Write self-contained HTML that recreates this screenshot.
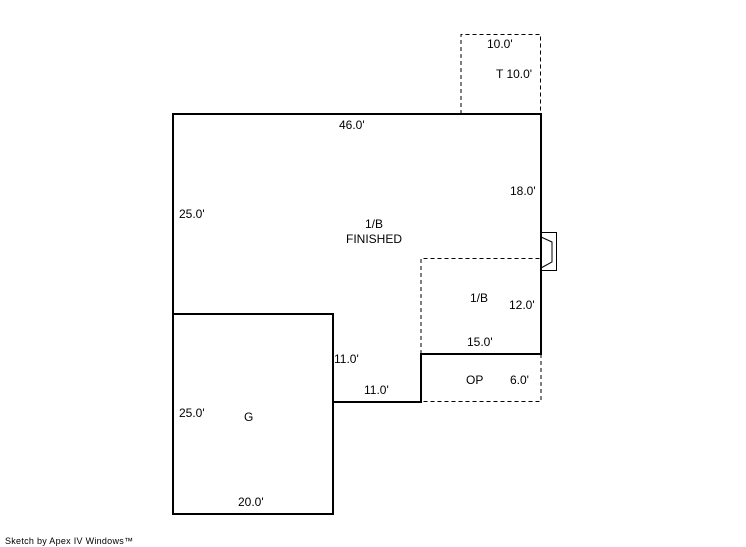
<!DOCTYPE html>
<html><head><style>
html,body{margin:0;padding:0;background:#fff;}
svg{display:block}
text{font-family:"Liberation Sans",sans-serif;font-size:12px;fill:#000}
</style></head><body>
<svg width="746" height="547" viewBox="0 0 746 547">
<g fill="none" stroke="#000" stroke-width="1" stroke-dasharray="4,3">
<polyline points="461,114 461,34.5 540.5,34.5 540.5,114"/>
<polyline points="421,354 421,258.5 541,258.5"/>
<polyline points="541,354 541,401.5 421,401.5"/>
</g>
<g fill="none" stroke="#000" stroke-width="2">
<polygon points="173,114 541,114 541,354 421,354 421,402 333,402 333,514 173,514"/>
<polyline points="173,314 333,314 333,402"/>
</g>
<g fill="none" stroke="#000" stroke-width="1">
<rect x="541.5" y="232.5" width="15" height="38"/>
<polyline points="541,237 552,242 552,262 541,268"/>
</g>
<text x="487" y="48">10.0'</text>
<text x="496" y="78">T 10.0'</text>
<text x="339" y="129">46.0'</text>
<text x="510" y="195">18.0'</text>
<text x="179" y="218">25.0'</text>
<text x="365" y="228">1/B</text>
<text x="346" y="243">FINISHED</text>
<text x="470" y="302">1/B</text>
<text x="509" y="309">12.0'</text>
<text x="467" y="346">15.0'</text>
<text x="334" y="363">11.0'</text>
<text x="364" y="394">11.0'</text>
<text x="466" y="384">OP</text>
<text x="510" y="384">6.0'</text>
<text x="179" y="417">25.0'</text>
<text x="244" y="421">G</text>
<text x="238" y="506">20.0'</text>
<text x="5" y="544" style="font-size:9px" textLength="128" lengthAdjust="spacing">Sketch by Apex IV Windows™</text>
</svg>
</body></html>
